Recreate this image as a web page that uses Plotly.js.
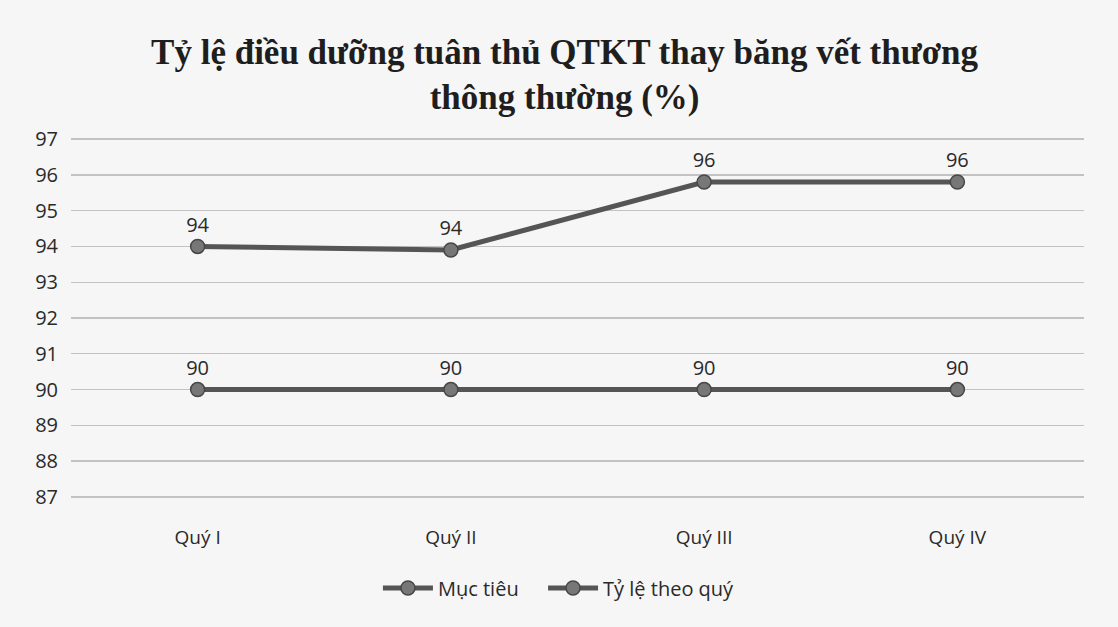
<!DOCTYPE html>
<html>
<head>
<meta charset="utf-8">
<script src="https://cdn.plot.ly/plotly-3.0.1.min.js"></script>
<style>html,body{margin:0;padding:0;background:#f6f6f6;}#chart{width:1118px;height:627px;}</style>
</head>
<body>
<div id="chart"></div>
<script>
const categories = ["Quý I", "Quý II", "Quý III", "Quý IV"];
const mucTieu = [90, 90, 90, 90];
const tyLeTheoQuy = [94, 93.9, 95.8, 95.8];
const yTicks = [87, 88, 89, 90, 91, 92, 93, 94, 95, 96, 97];

const lineColor = "#555555";
const markerStyle = {size: 14, color: "#777777", line: {color: "#474747", width: 1.5}};
const sansFont = "Open Sans, Noto Sans, sans-serif";
const labelFont = {family: sansFont, size: 20, color: "#2a2a2a"};

const traces = [
  {
    x: categories, y: mucTieu, name: "Mục tiêu", type: "scatter", mode: "lines+markers+text",
    line: {color: lineColor, width: 5}, marker: markerStyle, legend: "legend",
    texttemplate: "%{y:.0f}", textposition: "top center", textfont: labelFont, cliponaxis: false
  },
  {
    x: categories, y: tyLeTheoQuy, name: "Tỷ lệ theo quý", type: "scatter", mode: "lines+markers+text",
    line: {color: lineColor, width: 5}, marker: markerStyle, legend: "legend2",
    texttemplate: "%{y:.0f}", textposition: "top center", textfont: labelFont, cliponaxis: false
  }
];

const legendBase = {
  orientation: "h", xanchor: "left", y: -0.25, yanchor: "middle",
  font: {family: sansFont, size: 20, color: "#2a2a2a"},
  bgcolor: "rgba(0,0,0,0)", itemwidth: 50
};

const layout = {
  width: 1118, height: 627,
  paper_bgcolor: "#f6f6f6", plot_bgcolor: "#f6f6f6",
  margin: {l: 71, r: 34, t: 138, b: 129},
  title: {
    text: "Tỷ lệ điều dưỡng tuân thủ QTKT thay băng vết thương<br>thông thường (%)",
    font: {family: "Liberation Serif, Times New Roman, serif", size: 35, color: "#1e1e1e", weight: "bold"},
    x: 0.505, xanchor: "center", y: 0.898, yanchor: "middle"
  },
  xaxis: {
    type: "category", range: [-0.5, 3.5], showgrid: false, zeroline: false, showline: false,
    ticks: "outside", ticklen: 22, tickcolor: "rgba(0,0,0,0)",
    tickfont: {family: sansFont, size: 19, color: "#2a2a2a"}
  },
  yaxis: {
    range: [86.97, 97.03], tickvals: yTicks, ticktext: yTicks.map(String),
    showgrid: true, gridcolor: "#c2c2c2", gridwidth: 1.3, zeroline: false, showline: false,
    ticks: "outside", ticklen: 8, tickcolor: "rgba(0,0,0,0)",
    tickfont: {family: sansFont, size: 20, color: "#2a2a2a"}
  },
  showlegend: true,
  legend: Object.assign({}, legendBase, {x: 0.303}),
  legend2: Object.assign({}, legendBase, {x: 0.466})
};

Plotly.newPlot("chart", traces, layout, {displayModeBar: false, staticPlot: true});
</script>
</body>
</html>
